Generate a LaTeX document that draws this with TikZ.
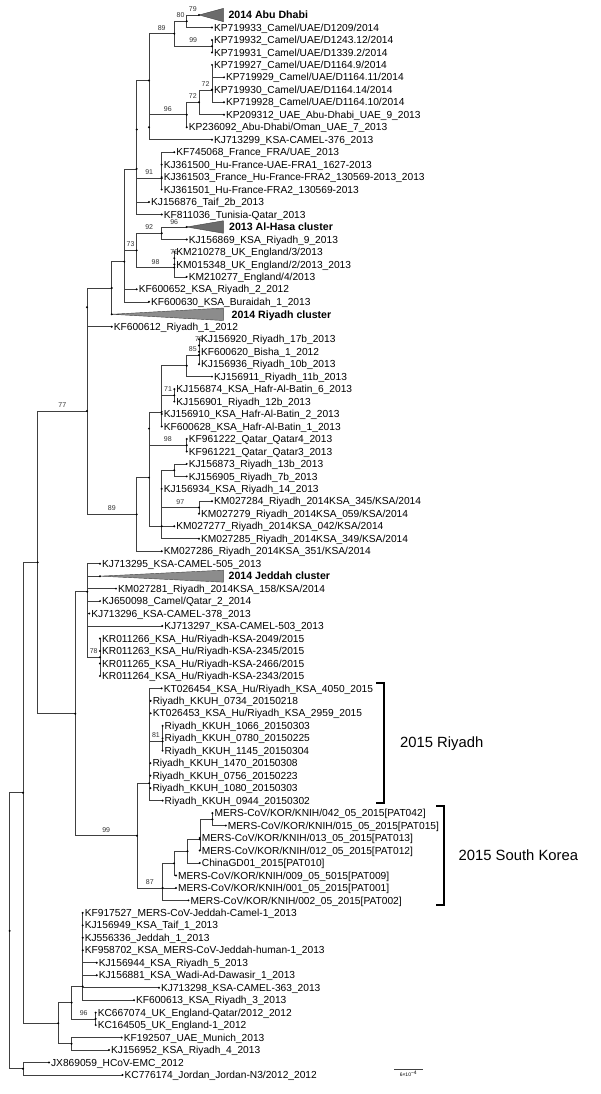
\documentclass[tikz,border=0pt]{standalone}
\usepackage{fontspec}
\setmainfont{Liberation Sans}
\usetikzlibrary{calc}
\newcommand\myedges[2]{\foreach \cc in {#2}{\draw[br] (#1) |- (\cc);}}
\newcommand\mybs[4][]{\coordinate (m#3) at ($(#2)!0.5!(#3)$);\node[bs,#1] (bs#3) at (m#3 |- #3) {#4};}
\newcommand\mytip[3]{\coordinate (t#1) at (#2,#1);\node[lab] (L#1) at (t#1) {#3};}
\begin{document}
\begin{tikzpicture}[x=1pt,y=-12.47pt,
  br/.style={draw=black!75, line width=0.6pt},
  lab/.style={anchor=west, inner sep=0pt, xshift=1.9pt, text height=7.3pt, text depth=0pt, font=\fontsize{10.2}{12}\selectfont},
  bs/.style={anchor=south, inner sep=0pt, yshift=3.2pt, text=black!80, font=\fontsize{7}{8}\selectfont},
  cl/.style={anchor=west, inner sep=0pt, text height=7.5pt, text depth=0pt, font=\fontsize{10.6}{12}\selectfont\bfseries},
  tri/.style={fill=black!58, draw=black!75, line width=0.4pt},
  grp/.style={anchor=west, inner sep=0pt, font=\fontsize{14.8}{17}\selectfont},
  brk/.style={line width=2.3pt, line join=miter}]
\useasboundingbox (0,-0.2029) rectangle (600,87.527);
% ---------- tips ----------
\coordinate (t1) at (199,1);
\mytip{2}{212}{KP719933\_Camel/UAE/D1209/2014}
\mytip{3}{212}{KP719932\_Camel/UAE/D1243.12/2014}
\mytip{4}{212}{KP719931\_Camel/UAE/D1339.2/2014}
\mytip{5}{212}{KP719927\_Camel/UAE/D1164.9/2014}
\mytip{6}{224}{KP719929\_Camel/UAE/D1164.11/2014}
\mytip{7}{212}{KP719930\_Camel/UAE/D1164.14/2014}
\mytip{8}{224}{KP719928\_Camel/UAE/D1164.10/2014}
\mytip{9}{224}{KP209312\_UAE\_Abu-Dhabi\_UAE\_9\_2013}
\mytip{10}{186.7}{KP236092\_Abu-Dhabi/Oman\_UAE\_7\_2013}
\mytip{11}{212}{KJ713299\_KSA-CAMEL-376\_2013}
\mytip{12}{174.3}{KF745068\_France\_FRA/UAE\_2013}
\mytip{13}{161.7}{KJ361500\_Hu-France-UAE-FRA1\_1627-2013}
\mytip{14}{161.7}{KJ361503\_France\_Hu-France-FRA2\_130569-2013\_2013}
\mytip{15}{161.7}{KJ361501\_Hu-France-FRA2\_130569-2013}
\mytip{16}{149}{KJ156876\_Taif\_2b\_2013}
\mytip{17}{161.7}{KF811036\_Tunisia-Qatar\_2013}
\coordinate (t18) at (186.7,18);
\mytip{19}{186.7}{KJ156869\_KSA\_Riyadh\_9\_2013}
\mytip{20}{174.3}{KM210278\_UK\_England/3/2013}
\mytip{21}{174.3}{KM015348\_UK\_England/2/2013\_2013}
\mytip{22}{186.7}{KM210277\_England/4/2013}
\mytip{23}{136.7}{KF600652\_KSA\_Riyadh\_2\_2012}
\mytip{24}{149}{KF600630\_KSA\_Buraidah\_1\_2013}
\coordinate (t25) at (111.7,25);
\mytip{26}{111.7}{KF600612\_Riyadh\_1\_2012}
\mytip{27}{199}{KJ156920\_Riyadh\_17b\_2013}
\mytip{28}{199}{KF600620\_Bisha\_1\_2012}
\mytip{29}{199}{KJ156936\_Riyadh\_10b\_2013}
\mytip{30}{212}{KJ156911\_Riyadh\_11b\_2013}
\mytip{31}{174.3}{KJ156874\_KSA\_Hafr-Al-Batin\_6\_2013}
\mytip{32}{174.3}{KJ156901\_Riyadh\_12b\_2013}
\mytip{33}{161.7}{KJ156910\_KSA\_Hafr-Al-Batin\_2\_2013}
\mytip{34}{161.7}{KF600628\_KSA\_Hafr-Al-Batin\_1\_2013}
\mytip{35}{186.7}{KF961222\_Qatar\_Qatar4\_2013}
\mytip{36}{186.7}{KF961221\_Qatar\_Qatar3\_2013}
\mytip{37}{186.7}{KJ156873\_Riyadh\_13b\_2013}
\mytip{38}{186.7}{KJ156905\_Riyadh\_7b\_2013}
\mytip{39}{161.7}{KJ156934\_KSA\_Riyadh\_14\_2013}
\mytip{40}{212}{KM027284\_Riyadh\_2014KSA\_345/KSA/2014}
\mytip{41}{199}{KM027279\_Riyadh\_2014KSA\_059/KSA/2014}
\mytip{42}{174.3}{KM027277\_Riyadh\_2014KSA\_042/KSA/2014}
\mytip{43}{199}{KM027285\_Riyadh\_2014KSA\_349/KSA/2014}
\mytip{44}{161.7}{KM027286\_Riyadh\_2014KSA\_351/KSA/2014}
\mytip{45}{100}{KJ713295\_KSA-CAMEL-505\_2013}
\coordinate (t46) at (100,46);
\mytip{47}{116}{KM027281\_Riyadh\_2014KSA\_158/KSA/2014}
\mytip{48}{100}{KJ650098\_Camel/Qatar\_2\_2014}
\mytip{49}{89.3}{KJ713296\_KSA-CAMEL-378\_2013}
\mytip{50}{162.3}{KJ713297\_KSA-CAMEL-503\_2013}
\mytip{51}{100}{KR011266\_KSA\_Hu/Riyadh-KSA-2049/2015}
\mytip{52}{100}{KR011263\_KSA\_Hu/Riyadh-KSA-2345/2015}
\mytip{53}{100}{KR011265\_KSA\_Hu/Riyadh-KSA-2466/2015}
\mytip{54}{100}{KR011264\_KSA\_Hu/Riyadh-KSA-2343/2015}
\mytip{55}{161.7}{KT026454\_KSA\_Hu/Riyadh\_KSA\_4050\_2015}
\mytip{56}{150.7}{Riyadh\_KKUH\_0734\_20150218}
\mytip{57}{150.7}{KT026453\_KSA\_Hu/Riyadh\_KSA\_2959\_2015}
\mytip{58}{162.6}{Riyadh\_KKUH\_1066\_20150303}
\mytip{59}{162.6}{Riyadh\_KKUH\_0780\_20150225}
\mytip{60}{162.6}{Riyadh\_KKUH\_1145\_20150304}
\mytip{61}{150.4}{Riyadh\_KKUH\_1470\_20150308}
\mytip{62}{150.4}{Riyadh\_KKUH\_0756\_20150223}
\mytip{63}{150.4}{Riyadh\_KKUH\_1080\_20150303}
\mytip{64}{162.6}{Riyadh\_KKUH\_0944\_20150302}
\mytip{65}{212.4}{MERS-CoV/KOR/KNIH/042\_05\_2015[PAT042]}
\mytip{66}{225.8}{MERS-CoV/KOR/KNIH/015\_05\_2015[PAT015]}
\mytip{67}{199.8}{MERS-CoV/KOR/KNIH/013\_05\_2015[PAT013]}
\mytip{68}{199.8}{MERS-CoV/KOR/KNIH/012\_05\_2015[PAT012]}
\mytip{69}{199.8}{ChinaGD01\_2015[PAT010]}
\mytip{70}{176}{MERS-CoV/KOR/KNIH/009\_05\_5015[PAT009]}
\mytip{71}{176}{MERS-CoV/KOR/KNIH/001\_05\_2015[PAT001]}
\mytip{72}{188.5}{MERS-CoV/KOR/KNIH/002\_05\_2015[PAT002]}
\mytip{73}{82.7}{KF917527\_MERS-CoV-Jeddah-Camel-1\_2013}
\mytip{74}{82.7}{KJ156949\_KSA\_Taif\_1\_2013}
\mytip{75}{82.7}{KJ556336\_Jeddah\_1\_2013}
\mytip{76}{82.7}{KF958702\_KSA\_MERS-CoV-Jeddah-human-1\_2013}
\mytip{77}{96.7}{KJ156944\_KSA\_Riyadh\_5\_2013}
\mytip{78}{96.7}{KJ156881\_KSA\_Wadi-Ad-Dawasir\_1\_2013}
\mytip{79}{159}{KJ713298\_KSA-CAMEL-363\_2013}
\mytip{80}{134}{KF600613\_KSA\_Riyadh\_3\_2013}
\mytip{81}{95.7}{KC667074\_UK\_England-Qatar/2012\_2012}
\mytip{82}{95.7}{KC164505\_UK\_England-1\_2012}
\mytip{83}{121.7}{KF192507\_UAE\_Munich\_2013}
\mytip{84}{109}{KJ156952\_KSA\_Riyadh\_4\_2013}
\mytip{85}{49}{JX869059\_HCoV-EMC\_2012}
\mytip{86}{122.5}{KC776174\_Jordan\_Jordan-N3/2012\_2012}
% ---------- internal nodes ----------
\coordinate (n80) at (186.7,1.5);
\coordinate (n99) at (212,3.5);
\coordinate (n89) at (174.3,2.5);
\coordinate (nA) at (212,7);
\coordinate (nB) at (199,8);
\coordinate (n96) at (186.7,9);
\coordinate (nC2) at (149,10);
\coordinate (nC) at (149,6.25);
\coordinate (n91) at (161.7,14.1);
\coordinate (nXi) at (136.7,10.18);
\coordinate (nX) at (136.7,13.34);
\coordinate (n92) at (161.7,18.5);
\coordinate (n98i) at (174.3,20.5);
\coordinate (n98) at (174.3,21.25);
\coordinate (n73) at (136.7,19.875);
\coordinate (X124) at (124.3,20.78);
\coordinate (n111) at (111.7,22.89);
\coordinate (n77i) at (87,24.44);
\coordinate (n85i) at (199,27.5);
\coordinate (n85) at (199,28.27);
\coordinate (n186) at (186.7,29.13);
\coordinate (n71) at (174.3,31.5);
\coordinate (X161) at (161.7,32.83);
\coordinate (n98b) at (186.7,35.5);
\coordinate (X149i) at (149,34.17);
\coordinate (n37) at (174.3,37.5);
\coordinate (n97) at (199,40.5);
\coordinate (X161b) at (161.7,42);
\coordinate (X149) at (149,38.1);
\coordinate (n89b) at (136.7,41.05);
\coordinate (n77) at (87,32.75);
\coordinate (nKR) at (100,52.5);
\coordinate (J87) at (87.3,47.25);
\coordinate (n81) at (162.6,59.25);
\coordinate (R149) at (149.3,62.61);
\coordinate (nK1) at (212.4,65.5);
\coordinate (nK2) at (199.8,67.1);
\coordinate (nK3) at (187.5,68.06);
\coordinate (nK4) at (174,69.03);
\coordinate (K162) at (162.6,71);
\coordinate (n99b) at (137,66.82);
\coordinate (X75) at (75.3,57.03);
\coordinate (n37r) at (37.7,44.89);
\coordinate (B83) at (82.7,78.9);
\coordinate (n96c) at (95.7,81.5);
\coordinate (B71) at (71.6,80.2);
\coordinate (nM) at (71.6,83.5);
\coordinate (B58) at (58.2,81.85);
\coordinate (N22) at (23,63.37);
\coordinate (nJ) at (23,85.5);
\coordinate (root) at (9.6,74.44);
% ---------- branches ----------
\myedges{n80}{t1,t2}
\myedges{n99}{t3,t4}
\myedges{n89}{n80,n99}
\myedges{nA}{t5,t6,t7,t8}
\myedges{nB}{nA,t9}
\myedges{n96}{nB,t10}
\myedges{nC2}{n96,t11}
\myedges{nC}{n89,nC2}
\myedges{n91}{t12,t13,t14,t15}
\myedges{nXi}{nC,n91}
\myedges{nX}{nXi,t16,t17}
\myedges{n92}{t18,t19}
\myedges{n98i}{t20,t21}
\myedges{n98}{n98i,t22}
\myedges{n73}{n92,n98}
\myedges{X124}{nX,n73,t23,t24}
\myedges{n111}{X124,t25}
\myedges{n77i}{n111,t26}
\myedges{n85i}{t27,t28}
\myedges{n85}{n85i,t29}
\myedges{n186}{n85,t30}
\myedges{n71}{t31,t32}
\myedges{X161}{n186,n71,t33,t34}
\myedges{n98b}{t35,t36}
\myedges{X149i}{X161,n98b}
\myedges{n37}{t37,t38}
\myedges{n97}{t40,t41}
\myedges{X161b}{n37,t39,n97,t42,t43}
\myedges{X149}{X149i,X161b}
\myedges{n89b}{X149,t44}
\myedges{n77}{n77i,n89b}
\myedges{nKR}{t51,t52,t53,t54}
\myedges{J87}{t45,t46,t47,t48,t49,t50,nKR}
\myedges{n81}{t58,t59,t60}
\myedges{R149}{t55,t56,t57,n81,t61,t62,t63,t64}
\myedges{nK1}{t65,t66}
\myedges{nK2}{nK1,t67,t68}
\myedges{nK3}{nK2,t69}
\myedges{nK4}{nK3,t70}
\myedges{K162}{nK4,t71,t72}
\myedges{n99b}{R149,K162}
\myedges{X75}{J87,n99b}
\myedges{n37r}{n77,X75}
\myedges{B83}{t73,t74,t75,t76,t77,t78,t79,t80}
\myedges{n96c}{t81,t82}
\myedges{B71}{B83,n96c}
\myedges{nM}{t83,t84}
\myedges{B58}{B71,nM}
\myedges{N22}{n37r,B58}
\myedges{nJ}{t85,t86}
\myedges{root}{N22,nJ}
% ---------- collapsed clusters ----------
\filldraw[tri] (t1) -- (223.3,0.47) -- (223.3,1.53) -- cycle;
\filldraw[tri] (t18) -- (223.3,17.5) -- (223.3,18.5) -- cycle;
\filldraw[tri, fill=black!45] (t25) -- (223.3,24.5) -- (223.3,25.5) -- cycle;
\filldraw[tri, fill=black!45] (t46) -- (223.3,45.52) -- (223.3,46.48) -- cycle;
\node[cl] (c1) at (228.3,1) {2014 Abu Dhabi};
\node[cl] (c18) at (229,18) {2013 Al-Hasa cluster};
\node[cl] (c25) at (231.5,25) {2014 Riyadh cluster};
\node[cl] (c46) at (228.5,46) {2014 Jeddah cluster};
% ---------- dots ----------
\foreach \i in {1,...,86} \fill (t\i) circle (1.1pt);
\foreach \n in {n80,n99,n89,nA,nB,n96,nC2,nC,n91,nXi,nX,n92,n98i,n98,n73,X124,n111,n77i,n85i,n85,n186,n71,X161,n98b,X149i,n37,n97,X161b,X149,n89b,n77,nKR,J87,n81,R149,nK1,nK2,nK3,nK4,K162,n99b,X75,n37r,B83,n96c,B71,nM,B58,N22,nJ,root}
  \fill (\n) circle (1.1pt);
% ---------- bootstrap values ----------
\mybs{n80}{t1}{79}
\mybs{n89}{n80}{80}
\mybs{nC}{n89}{89}
\mybs{n89}{n99}{99}
\mybs{nB}{nA}{72}
\mybs{n96}{nB}{72}
\mybs{nC2}{n96}{96}
\mybs{nXi}{n91}{91}
\mybs[yshift=-1.2pt]{n92}{t18}{96}
\mybs{n73}{n92}{92}
\mybs{n73}{n98}{98}
\mybs{n98}{n98i}{79}
\mybs{X124}{n73}{73}
\mybs{n85}{n85i}{79}
\mybs{n186}{n85}{85}
\mybs{X161}{n71}{71}
\mybs{X149i}{n98b}{98}
\mybs{X161b}{n97}{97}
\mybs{n77}{n89b}{89}
\mybs{n37r}{n77}{77}
\mybs{J87}{nKR}{78}
\mybs{R149}{n81}{81}
\mybs{n99b}{K162}{87}
\mybs{X75}{n99b}{99}
\mybs{B71}{n96c}{96}
% ---------- brackets ----------
\coordinate (ra) at (376,54.57);
\coordinate (rb) at (384,54.57);
\coordinate (rc) at (384,64.19);
\coordinate (rd) at (376,64.19);
\draw[brk] (ra) -- (rb) -- (rc) -- (rd);
\node[grp] (gR) at (400,59.46) {2015 Riyadh};
\coordinate (ka) at (436,64.45);
\coordinate (kb) at (444,64.45);
\coordinate (kc) at (444,72.37);
\coordinate (kd) at (436,72.37);
\draw[brk] (ka) -- (kb) -- (kc) -- (kd);
\node[grp] (gK) at (458.5,68.36) {2015 South Korea};
% ---------- scale bar ----------
\coordinate (sa) at (394,85.52);
\coordinate (sb) at (423,85.52);
\draw[br] (sa) -- (sb);
\node[anchor=north, inner sep=0pt, font=\fontsize{5}{6}\selectfont] (sl) at ($(sa)!0.5!(sb)+(0,0.15)$) {6×10\textsuperscript{−4}};
\end{tikzpicture}
\end{document}
